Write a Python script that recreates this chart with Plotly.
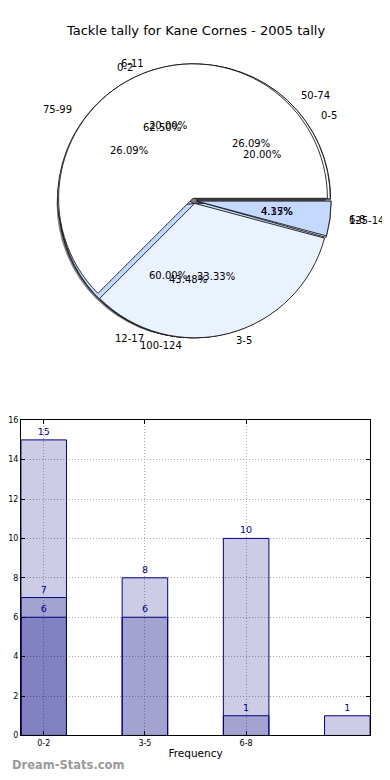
import math
import plotly.graph_objects as go

# ---------------- data ----------------
title_text = "Tackle tally for Kane Cornes - 2005 tally"

# pie A
pie_a_labels = ["0-5", "6-11", "12-17"]
pie_a_values = [1, 1, 3]
# pie B
pie_b_labels = ["50-74", "75-99", "100-124", "125-149"]
pie_b_values = [6, 6, 10, 1]
# pie C
pie_c_labels = ["0-2", "3-5", "6-8"]
pie_c_values = [15, 8, 1]

# bar chart (overlaid series)
bar_categories = ["0-2", "3-5", "6-8", ""]
bar_series_1 = [15, 8, 10, 1]
bar_series_2 = [7, 6, 1, None]
bar_series_3 = [6, None, None, None]

# ---------------- styling / geometry ----------------
OFF = 8                      # page body margin of the browser
W, H = 390 - OFF, 780 - OFF  # figure size
FONT = "DejaVu Sans"
slice_colors = ["#ffffff", "#eaf1ff", "#c5d8ff", "#ffffff"]
PULL = 0.02
CX, CY, R = 193, 199, 136          # pie centre / radius in page px
RX, RY = 141, 133                  # text placement radii (px)

def px2paper(x, y):
    return (x - OFF) / W, 1 - (y - OFF) / H

def xdom(a, b):
    return [(a - OFF) / W, (b - OFF) / W]

def ydom(top, bottom):
    return [1 - (bottom - OFF) / H, 1 - (top - OFF) / H]

half = R * (1 + PULL)
pie_domain = dict(x=xdom(CX - half, CX + half), y=ydom(CY - half, CY + half))
shadow_domain = dict(x=xdom(CX - 3 - R, CX - 3 + R), y=ydom(CY + 3 - R, CY + 3 + R))

fig = go.Figure()

# shadow
fig.add_trace(go.Pie(values=[1], labels=["shadow"], sort=False,
                     marker=dict(colors=["rgba(40,40,40,0.6)"], line=dict(width=0)),
                     textinfo="none", hoverinfo="skip", showlegend=False,
                     domain=shadow_domain))

annotations = []

def add_pie(labels, values):
    n = len(values)
    cols = slice_colors[:n]
    fig.add_trace(go.Pie(labels=labels[::-1], values=values[::-1], sort=False,
                         direction="clockwise", rotation=90,
                         pull=[PULL] * n,
                         marker=dict(colors=cols[::-1], line=dict(color="black", width=0.8)),
                         textinfo="none", hoverinfo="skip", showlegend=False,
                         domain=pie_domain))
    total = float(sum(values))
    cum = 0.0
    for lab, v in zip(labels, values):
        theta = math.radians(360.0 * (cum + v / 2.0) / total)
        cum += v
        c, s = math.cos(theta), math.sin(theta)
        lx, ly = px2paper(CX + 1.1 * RX * c, CY - 1.1 * RY * s)
        annotations.append(dict(x=lx, y=ly, xref="paper", yref="paper", text=lab,
                                showarrow=False, xanchor="left" if c > 0 else "right",
                                yanchor="middle", font=dict(family=FONT, size=10, color="#000")))
        pxp, pyp = px2paper(CX + 0.6 * RX * c, CY - 0.6 * RY * s)
        annotations.append(dict(x=pxp, y=pyp, xref="paper", yref="paper",
                                text="%.2f%%" % (100.0 * v / total),
                                showarrow=False, xanchor="center", yanchor="middle",
                                font=dict(family=FONT, size=10, color="#000")))

add_pie(pie_a_labels, pie_a_values)
add_pie(pie_b_labels, pie_b_values)
add_pie(pie_c_labels, pie_c_values)

# bars
xpos = list(range(len(bar_categories)))
for series in (bar_series_1, bar_series_2, bar_series_3):
    fig.add_trace(go.Bar(x=xpos, y=series, width=0.45,
                         marker=dict(color="rgba(0,0,128,0.2)", line=dict(color="#000080", width=1)),
                         text=[("" if v is None else str(v)) for v in series],
                         textposition="outside", cliponaxis=False,
                         textfont=dict(family=FONT, size=9.5, color="#00008b"),
                         hoverinfo="skip", showlegend=False))

annotations.append(dict(x=0, y=px2paper(0, 770)[1], xref="paper", yref="paper",
                        text="<b>Dream-Stats.com</b>", showarrow=False,
                        xanchor="left", yanchor="middle",
                        font=dict(family=FONT, size=11.5, color="#9a9a9a")))

axis_common = dict(showline=True, linecolor="black", linewidth=1, mirror="allticks",
                   ticks="inside", ticklen=4, tickcolor="black",
                   showgrid=True, gridcolor="#a8a8a8", griddash="1px,2px", gridwidth=1,
                   zeroline=False, tickfont=dict(family=FONT, size=8, color="#000"))

fig.update_layout(
    width=W, height=H,
    margin=dict(l=0, r=0, t=0, b=0),
    paper_bgcolor="white", plot_bgcolor="white",
    barmode="overlay",
    title=dict(text=title_text, x=(195 - OFF) / W, xanchor="center", xref="paper",
               y=1 - (30 - OFF) / H, yref="container", yanchor="middle",
               font=dict(family=FONT, size=13, color="#000")),
    xaxis=dict(domain=xdom(19, 370), range=[-0.225, 3.225],
               tickvals=xpos[:3], ticktext=bar_categories[:3],
               title=dict(text="Frequency", standoff=2,
                          font=dict(family=FONT, size=10.5, color="#000")),
               **axis_common),
    yaxis=dict(domain=ydom(421, 740), range=[0, 16], dtick=2, **axis_common),
    annotations=annotations,
)

fig.write_html("out.html")
